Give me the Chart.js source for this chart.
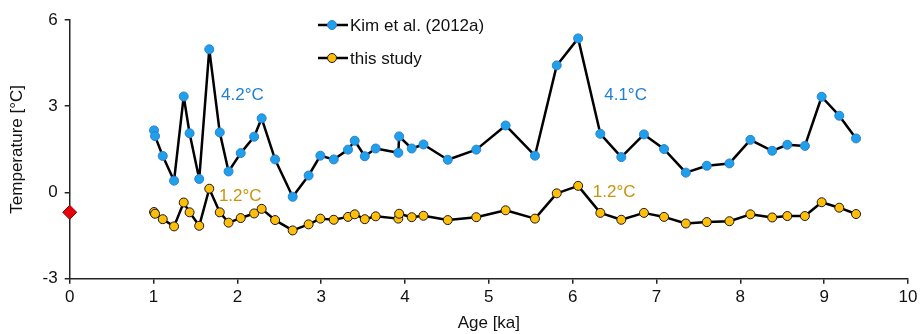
<!DOCTYPE html>
<html>
<head>
<meta charset="utf-8">
<script src="https://cdn.jsdelivr.net/npm/chart.js@4"></script>
<style>
html,body{margin:0;padding:0;background:#fff;}
canvas{display:block;}
</style>
</head>
<body>
<canvas id="c" width="921" height="334"></canvas>
<script>
const ages = [1.006,1.018,1.11,1.245,1.36,1.43,1.545,1.665,1.79,1.895,2.04,2.20,2.29,2.45,2.66,2.85,2.99,3.15,3.32,3.40,3.52,3.65,3.92,3.93,4.08,4.22,4.51,4.85,5.20,5.55,5.81,6.065,6.33,6.58,6.85,7.09,7.35,7.60,7.87,8.12,8.38,8.56,8.77,8.97,9.18,9.38];
const kimTemps = [2.16,1.96,1.27,0.41,3.34,2.06,0.47,4.98,2.09,0.73,1.37,1.94,2.58,1.15,-0.15,0.59,1.28,1.15,1.49,1.80,1.26,1.53,1.38,1.95,1.53,1.67,1.14,1.49,2.33,1.28,4.42,5.36,2.04,1.23,2.02,1.51,0.69,0.93,1.01,1.83,1.45,1.66,1.62,3.33,2.67,1.88];
const studyTemps = [-0.68,-0.74,-0.93,-1.18,-0.35,-0.69,-1.16,0.13,-0.69,-1.05,-0.89,-0.73,-0.57,-0.96,-1.32,-1.11,-0.91,-0.95,-0.85,-0.76,-0.93,-0.83,-0.91,-0.74,-0.86,-0.81,-0.96,-0.86,-0.62,-0.91,-0.03,0.23,-0.71,-0.95,-0.71,-0.85,-1.08,-1.03,-1.00,-0.76,-0.87,-0.82,-0.82,-0.34,-0.53,-0.75];
const modernAges = [0];
const modernTemps = [-0.69];
const seriesNames = ["Kim et al. (2012a)", "this study"];
const xTicks = [0,1,2,3,4,5,6,7,8,9,10];
const yTicks = [-3,0,3,6];
const annotationTexts = ["4.2°C","1.2°C","4.1°C","1.2°C"];
const annotationAges = [1.805,1.78,6.376,6.24];
const annotationTemps = [3.39,-0.15,3.39,0.02];
const annotationColors = ["#1f7fd2","#c9930c","#1f7fd2","#c9930c"];

const FONT = "'Liberation Sans', Arial, Helvetica, sans-serif";
const FS = 17;
const BLUE = "#1EA0EA", BLUE_BORDER = "#2F7FD0";
const GOLD = "#FFBE0A", GOLD_BORDER = "#1a1a1a";

const toPts = (xs, ys) => xs.map((x, i) => ({x: x, y: ys[i]}));

const overlayPlugin = {
  id: 'overlay',
  afterDatasetsDraw(chart) {
    const ctx = chart.ctx;
    const xs = chart.scales.x, ys = chart.scales.y;
    ctx.save();
    ctx.font = FS + "px " + FONT;
    ctx.textBaseline = "middle";
    ctx.textAlign = "left";
    annotationTexts.forEach((t, i) => {
      ctx.fillStyle = annotationColors[i];
      ctx.fillText(t, xs.getPixelForValue(annotationAges[i]), ys.getPixelForValue(annotationTemps[i]));
    });
    // legend
    const items = [[BLUE, BLUE_BORDER], [GOLD, GOLD_BORDER]];
    const lx = 318, ly = [25, 58];
    items.forEach((it, i) => {
      ctx.strokeStyle = "#000";
      ctx.lineWidth = 2.5;
      ctx.beginPath();
      ctx.moveTo(lx, ly[i]);
      ctx.lineTo(lx + 30, ly[i]);
      ctx.stroke();
      ctx.beginPath();
      ctx.arc(lx + 14, ly[i], 4.5, 0, Math.PI * 2);
      ctx.fillStyle = it[0];
      ctx.fill();
      ctx.lineWidth = 1;
      ctx.strokeStyle = it[1];
      ctx.stroke();
      ctx.fillStyle = "#111";
      ctx.font = FS + "px " + FONT;
      ctx.fillText(seriesNames[i], lx + 32, ly[i] + 1);
    });
    ctx.restore();
  }
};

new Chart(document.getElementById('c'), {
  type: 'line',
  data: {
    datasets: [
      {
        label: seriesNames[0],
        data: toPts(ages, kimTemps),
        borderColor: "#000",
        borderWidth: 2.5,
        borderJoinStyle: 'round',
        pointRadius: 4.5,
        pointBackgroundColor: BLUE,
        pointBorderColor: BLUE_BORDER,
        pointBorderWidth: 1,
        tension: 0
      },
      {
        label: seriesNames[1],
        data: toPts(ages, studyTemps),
        borderColor: "#000",
        borderWidth: 2.5,
        borderJoinStyle: 'round',
        pointRadius: 4.5,
        pointBackgroundColor: GOLD,
        pointBorderColor: GOLD_BORDER,
        pointBorderWidth: 1,
        tension: 0
      },
      {
        label: "modern",
        data: toPts(modernAges, modernTemps),
        showLine: false,
        pointStyle: 'rectRot',
        pointRadius: 7,
        pointBackgroundColor: "#E8000A",
        pointBorderColor: "#8a0000",
        pointBorderWidth: 1
      }
    ]
  },
  options: {
    responsive: false,
    animation: false,
    events: [],
    clip: false,
    layout: {padding: {top: 20, right: 13, left: 0, bottom: 0}},
    plugins: {legend: {display: false}, tooltip: {enabled: false}},
    scales: {
      x: {
        type: 'linear',
        min: 0, max: 10,
        afterBuildTicks: s => { s.ticks = xTicks.map(v => ({value: v})); },
        afterFit: s => { s.height = 55.3; },
        grid: {drawOnChartArea: false, drawTicks: true, tickLength: 5, color: "#222", lineWidth: 1.5},
        border: {color: "#222", width: 1.5},
        ticks: {color: "#111", font: {size: FS, family: FONT}, padding: 3, maxRotation: 0},
        title: {display: true, text: "Age [ka]", color: "#111", font: {size: FS, family: FONT}, padding: {top: 4, bottom: 0}}
      },
      y: {
        type: 'linear',
        min: -3, max: 6,
        afterBuildTicks: s => { s.ticks = yTicks.map(v => ({value: v})); },
        afterFit: s => { s.width = 69.7; },
        grid: {drawOnChartArea: false, drawTicks: true, tickLength: 5, color: "#222", lineWidth: 1.5},
        border: {color: "#222", width: 1.5},
        ticks: {color: "#111", font: {size: FS, family: FONT}, padding: 7},
        title: {display: true, text: "Temperature [°C]", color: "#111", font: {size: FS, family: FONT}, padding: {top: 7, bottom: 4}}
      }
    }
  },
  plugins: [overlayPlugin]
});
</script>
</body>
</html>
